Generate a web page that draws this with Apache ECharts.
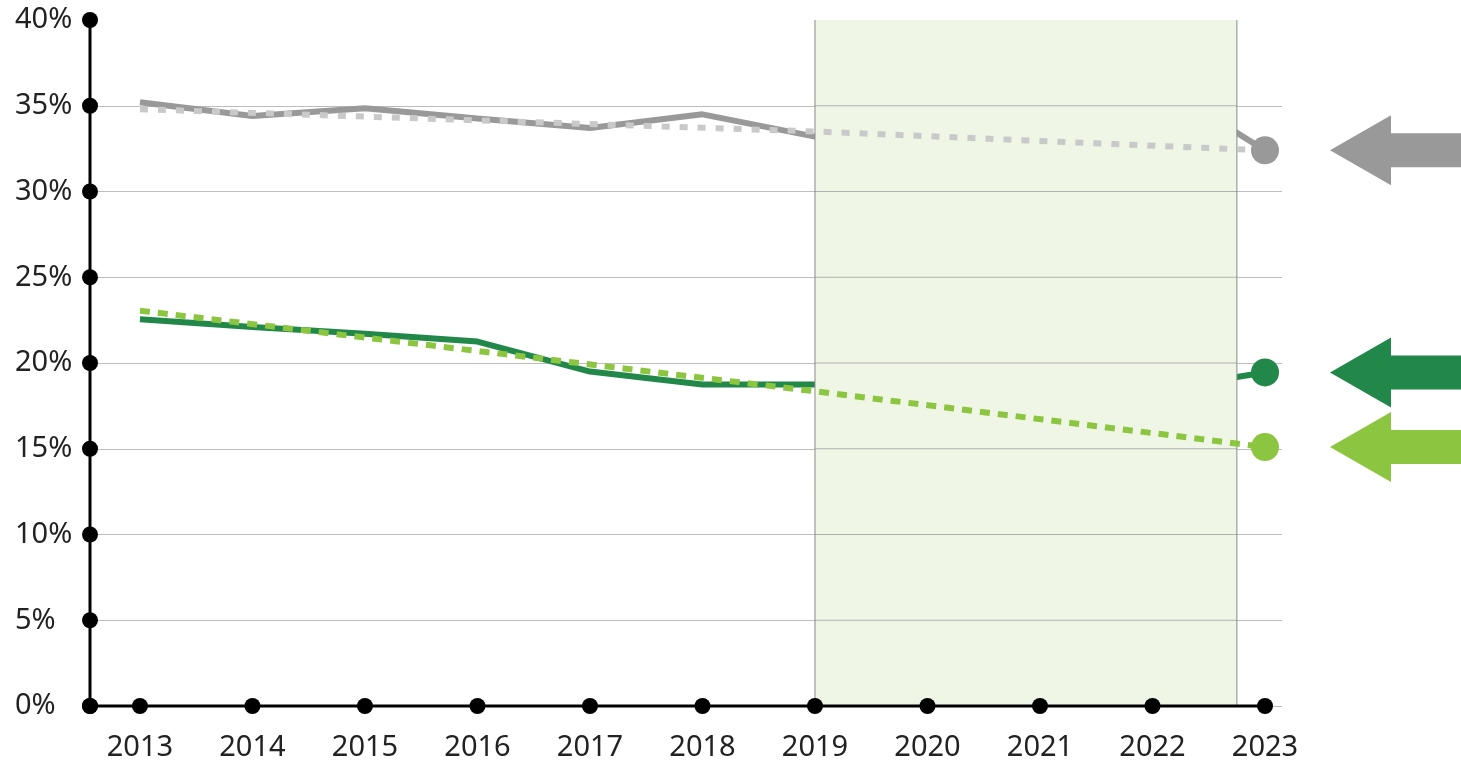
<!DOCTYPE html>
<html>
<head>
<meta charset="utf-8">
<script src="https://cdn.jsdelivr.net/npm/echarts@6/dist/echarts.min.js"></script>
<style>
  html, body { margin: 0; padding: 0; background: #fff; }
  #chart { width: 1461px; height: 763px; }
</style>
</head>
<body>
<div id="chart"></div>
<script>
// data (percent)
const years = [2013, 2014, 2015, 2016, 2017, 2018, 2019, 2020, 2021, 2022, 2023];
const yTicks = [0, 5, 10, 15, 20, 25, 30, 35, 40];
// solid lines; 2020-2021 sit under the shaded band and are not readable
const grayActual = [35.2, 34.4, 34.85, 34.25, 33.7, 34.5, 33.2, null, null, 36.5, 32.4];
const greenActual = [22.55, 22.1, 21.7, 21.25, 19.5, 18.75, 18.75, null, null, 18.4, 19.45];
// dotted trend lines
const trendYears = [2013, 2019, 2023];
const grayTrend = [34.8, 33.5, 32.4];
const greenTrend = [23.05, 18.35, 15.1];
// shaded period
const forecastBand = [2019, 2022.75];

const xMin = 2012.556;
const xMax = 2023.151;
const lastYear = years[years.length - 1];

const GRAY = "#999999";
const GRAY_LIGHT = "#c9c9c9";
const GREEN = "#21884a";
const GREEN_LIGHT = "#8cc540";
const FONT = "Noto Sans";

const pairs = (xs, ys) => xs.map((x, i) => [x, ys[i]]).filter(p => p[1] != null);
const endDot = (v) => (v[0] === lastYear ? 28 : 0);

const chart = echarts.init(document.getElementById("chart"));

const option = {
  animation: false,
  grid: { left: 90, right: 179, top: 20, bottom: 57 },
  xAxis: {
    type: "value",
    min: xMin,
    max: xMax,
    axisLine: { show: false },
    axisTick: { show: false },
    splitLine: { show: false },
    axisLabel: {
      customValues: years,
      formatter: (v) => String(v),
      fontFamily: FONT,
      fontSize: 29,
      color: "#222",
      margin: 27
    }
  },
  yAxis: {
    type: "value",
    min: 0,
    max: 40,
    interval: 5,
    axisLine: { show: false },
    axisTick: { show: false },
    splitLine: { show: true, showMaxLine: false, lineStyle: { color: "#bdbdbd", width: 1 } },
    axisLabel: {
      formatter: "{value}%",
      align: "left",
      margin: 75,
      fontFamily: FONT,
      fontSize: 29,
      color: "#222"
    }
  },
  series: [
    {
      name: "grayActual",
      type: "line",
      z: 1,
      data: pairs(years, grayActual),
      lineStyle: { color: GRAY, width: 6 },
      itemStyle: { color: GRAY },
      symbol: "none"
    },
    {
      name: "greenActual",
      type: "line",
      z: 1,
      data: pairs(years, greenActual),
      lineStyle: { color: GREEN, width: 6 },
      itemStyle: { color: GREEN },
      symbol: "circle",
      showSymbol: true,
      showAllSymbol: true,
      symbolSize: endDot
    },
    {
      name: "band",
      type: "custom",
      z: 2,
      silent: true,
      data: [forecastBand],
      encode: { x: [0, 1] },
      renderItem: function (params, api) {
        const p0 = api.coord([api.value(0), 40]);
        const p1 = api.coord([api.value(1), 0]);
        const kids = [{
          type: "rect",
          shape: { x: p0[0], y: p0[1], width: p1[0] - p0[0], height: p1[1] - p0[1] },
          style: { fill: "#eff6e6" }
        }];
        yTicks.slice(1, -1).forEach(function (t) {
          const y = api.coord([api.value(0), t])[1];
          kids.push({
            type: "line",
            shape: { x1: p0[0], y1: y, x2: p1[0], y2: y },
            style: { stroke: "#b0b0b0", lineWidth: 1 }
          });
        });
        [p0[0], p1[0]].forEach(function (x) {
          kids.push({
            type: "line",
            shape: { x1: x, y1: p0[1], x2: x, y2: p1[1] },
            style: { stroke: "#8a8a8a", lineWidth: 1 }
          });
        });
        return { type: "group", children: kids };
      }
    },
    {
      name: "grayTrend",
      type: "line",
      z: 3,
      data: pairs(trendYears, grayTrend),
      lineStyle: { color: GRAY_LIGHT, width: 6, type: [8, 10] },
      itemStyle: { color: GRAY },
      symbol: "circle",
      showSymbol: true,
      showAllSymbol: true,
      symbolSize: endDot
    },
    {
      name: "greenTrend",
      type: "line",
      z: 3,
      data: pairs(trendYears, greenTrend),
      lineStyle: { color: GREEN_LIGHT, width: 6, type: [10, 8] },
      itemStyle: { color: GREEN_LIGHT },
      symbol: "circle",
      showSymbol: true,
      showAllSymbol: true,
      symbolSize: endDot
    },
    {
      // x axis line with a dot at every year
      name: "xAxisDots",
      type: "line",
      z: 5,
      silent: true,
      clip: false,
      data: [[xMin, 0]].concat(years.map(y => [y, 0])),
      lineStyle: { color: "#000", width: 3 },
      itemStyle: { color: "#000" },
      symbol: "circle",
      symbolSize: 16,
      showAllSymbol: true
    },
    {
      // y axis line with a dot at every tick
      name: "yAxisDots",
      type: "line",
      z: 5,
      silent: true,
      clip: false,
      data: yTicks.map(t => [xMin, t]),
      lineStyle: { color: "#000", width: 3 },
      itemStyle: { color: "#000" },
      symbol: "circle",
      symbolSize: 16,
      showAllSymbol: true
    }
  ]
};

chart.setOption(option);

// arrows on the right, pointing at the end values
const W = chart.getWidth();
const ends = [
  [grayTrend[grayTrend.length - 1], GRAY],
  [greenActual[greenActual.length - 1], GREEN],
  [greenTrend[greenTrend.length - 1], GREEN_LIGHT]
];
chart.setOption({
  graphic: ends.map(function (e) {
    const y = chart.convertToPixel({ gridIndex: 0 }, [lastYear, e[0]])[1];
    return {
      type: "polygon",
      silent: true,
      shape: {
        points: [
          [W - 131, y], [W - 70, y - 35], [W - 70, y - 17], [W, y - 17],
          [W, y + 17], [W - 70, y + 17], [W - 70, y + 35]
        ]
      },
      style: { fill: e[1] }
    };
  })
});
</script>
</body>
</html>
